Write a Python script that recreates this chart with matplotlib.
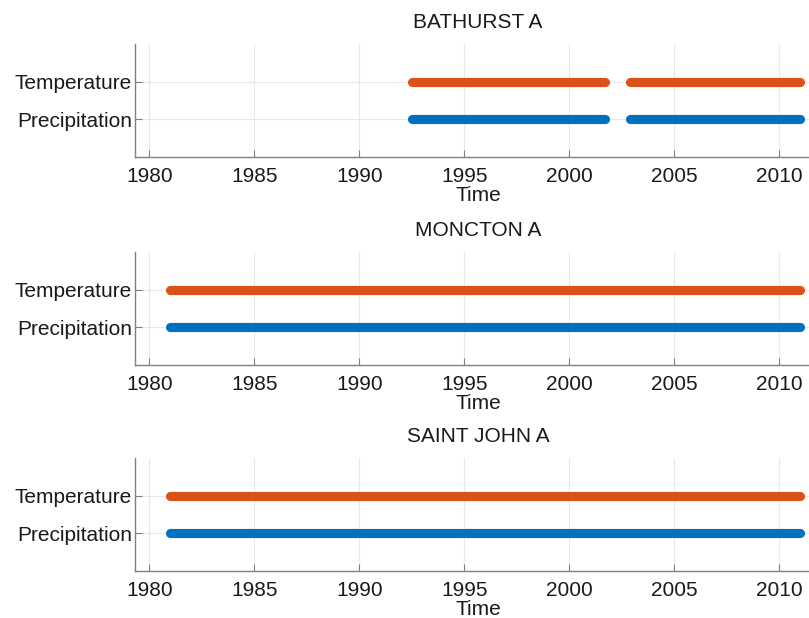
import matplotlib.pyplot as plt

plt.rcParams['font.family'] = ['Liberation Sans', 'DejaVu Sans']

# station records: list of (start, end) coverage periods in decimal years
stations = ['BATHURST A', 'MONCTON A', 'SAINT JOHN A']
temperature_periods = [
    [(1992.5, 2001.7), (2002.9, 2011.0)],
    [(1981.0, 2011.0)],
    [(1981.0, 2011.0)],
]
precipitation_periods = [
    [(1992.5, 2001.7), (2002.9, 2011.0)],
    [(1981.0, 2011.0)],
    [(1981.0, 2011.0)],
]
variables = ['Precipitation', 'Temperature']
year_ticks = [1980, 1985, 1990, 1995, 2000, 2005, 2010]

ORANGE = '#D95319'
BLUE = '#0072BD'
AXIS_GREY = '#808080'
TEXT = '#1a1a1a'
FS = 15

fig = plt.figure(figsize=(8.09, 6.18), dpi=100)

left = 135 / 809
width = 686 / 809
height = 113 / 618
bottoms = [1 - 157 / 618, 1 - 365 / 618, 1 - 571 / 618]

for name, temps, precs, bottom in zip(stations, temperature_periods,
                                      precipitation_periods, bottoms):
    ax = fig.add_axes([left, bottom, width, height])

    for start, end in precs:
        ax.plot([start, end], [1, 1], color=BLUE, lw=6.6,
                solid_capstyle='round', zorder=3)
    for start, end in temps:
        ax.plot([start, end], [2, 2], color=ORANGE, lw=6.6,
                solid_capstyle='round', zorder=3)

    ax.set_xlim(1979.32, 2011.98)
    ax.set_ylim(0, 3)
    ax.set_xticks(year_ticks)
    ax.set_yticks([1, 2])
    ax.set_yticklabels(variables)

    ax.grid(True, color='#e8e8e8', lw=0.8)
    ax.set_axisbelow(True)

    for side in ('top', 'right'):
        ax.spines[side].set_visible(False)
    for side in ('left', 'bottom'):
        ax.spines[side].set_color(AXIS_GREY)
        ax.spines[side].set_linewidth(1.0)

    ax.tick_params(direction='in', length=5, width=0.8, color=AXIS_GREY,
                   labelsize=FS, labelcolor=TEXT)
    ax.tick_params(axis='x', pad=7)
    ax.tick_params(axis='y', pad=2)
    ax.set_xlabel('Time', fontsize=FS, color=TEXT, labelpad=0)
    ax.set_title(name, fontsize=FS, color=TEXT, pad=11.5)

fig.savefig('out.png', dpi=100)
